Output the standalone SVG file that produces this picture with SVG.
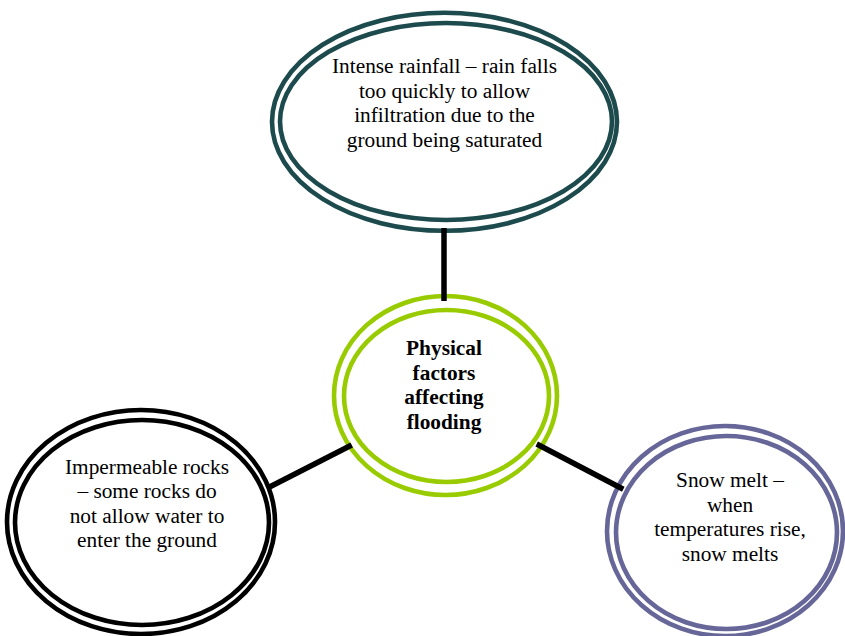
<svg xmlns="http://www.w3.org/2000/svg" width="845" height="636" viewBox="0 0 845 636">
<style>
  .ring { fill: none; stroke-width: 4.6; }
  .teal { stroke: #1d4b4d; }
  .green { stroke: #99cc00; }
  .black { stroke: #000000; }
  .purple { stroke: #666699; }
  .t { font-family: "Liberation Serif", "Times New Roman", serif; font-size: 21.33px; fill: #000; text-anchor: middle; }
  .b { font-weight: bold; }
  .conn { stroke: #000; stroke-width: 5.5; fill: none; stroke-linecap: butt; }
</style>
<rect width="845" height="636" fill="#ffffff"/>
<g id="node-rainfall">
  <ellipse class="ring teal" cx="444.5" cy="121.8" rx="172.5" ry="109"/>
  <ellipse class="ring teal" cx="446" cy="121.5" rx="166" ry="98.5"/>
  <text class="t" x="444.5" y="73">Intense rainfall – rain falls</text>
  <text class="t" x="444.5" y="97.5">too quickly to allow</text>
  <text class="t" x="444.5" y="122">infiltration due to the</text>
  <text class="t" x="444.5" y="146.5">ground being saturated</text>
</g>
<g id="node-center">
  <ellipse class="ring green" cx="445.5" cy="395.5" rx="111.5" ry="99.5"/>
  <ellipse class="ring green" cx="446.5" cy="396" rx="102.5" ry="86"/>
  <text class="t b" x="444" y="355">Physical</text>
  <text class="t b" x="444" y="379.5">factors</text>
  <text class="t b" x="444" y="404">affecting</text>
  <text class="t b" x="444" y="428.5">flooding</text>
</g>
<g id="node-rocks">
  <ellipse class="ring black" cx="141" cy="522" rx="134" ry="112"/>
  <ellipse class="ring black" cx="142" cy="522.5" rx="127" ry="102.5"/>
  <text class="t" x="147" y="473.5">Impermeable rocks</text>
  <text class="t" x="147" y="498">– some rocks do</text>
  <text class="t" x="147" y="522.5">not allow water to</text>
  <text class="t" x="147" y="547">enter the ground</text>
</g>
<g id="node-snow">
  <ellipse class="ring purple" cx="725" cy="531" rx="118" ry="105"/>
  <ellipse class="ring purple" cx="726.5" cy="532.5" rx="110.5" ry="96.5"/>
  <text class="t" x="730" y="487">Snow melt –</text>
  <text class="t" x="730" y="511.5">when</text>
  <text class="t" x="730" y="536">temperatures rise,</text>
  <text class="t" x="730" y="560.5">snow melts</text>
</g>
<g id="connectors">
  <line class="conn" x1="444" y1="228" x2="444" y2="301"/>
  <line class="conn" x1="270" y1="486.7" x2="351.7" y2="445"/>
  <line class="conn" x1="536.7" y1="444" x2="623.3" y2="489.3"/>
</g>
</svg>
